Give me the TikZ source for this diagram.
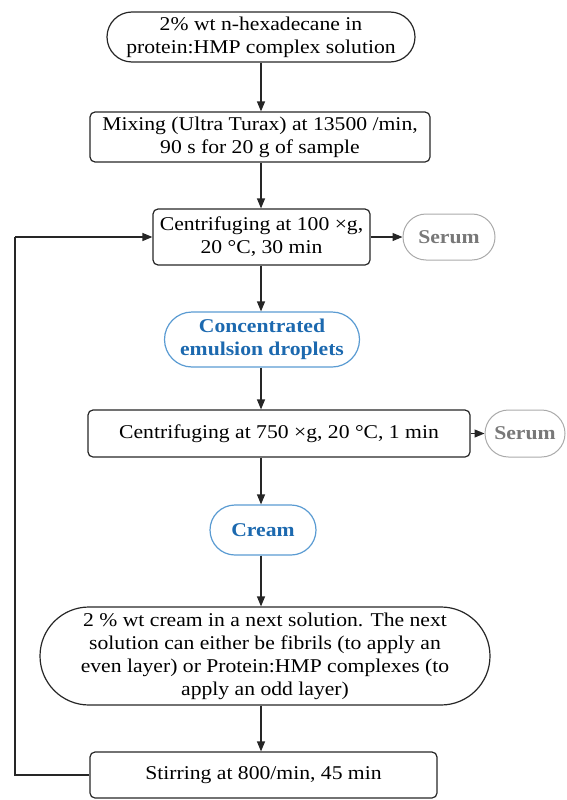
\documentclass[tikz,border=0pt]{standalone}
\usepackage{fontspec}
\setmainfont{Liberation Serif}[FakeStretch=1.11]
\usetikzlibrary{shapes.misc,arrows.meta}
\definecolor{blueT}{RGB}{28,105,175}
\definecolor{blueL}{RGB}{90,155,210}
\definecolor{grayT}{RGB}{120,120,120}
\definecolor{grayL}{RGB}{170,170,170}
\tikzset{
  base/.style={draw=black!85, line width=1.2pt, align=center, inner sep=0pt, font=\fontsize{19.5}{23}\selectfont},
  stad/.style={base, rounded rectangle},
  rbox/.style={base, rectangle, rounded corners=5pt},
  bluestad/.style={stad, draw=blueL, text=blueT, font=\fontsize{19.5}{23}\selectfont\bfseries},
  graystad/.style={stad, draw=grayL, text=grayT, font=\fontsize{19.5}{23}\selectfont\bfseries, line width=1pt},
  arr/.style={line width=1.2pt, draw=black!85, -{Triangle[length=10pt,width=8pt]}},
  ln/.style={line width=1.2pt, draw=black!85}
}
\begin{document}
\begin{tikzpicture}[x=1pt,y=-1pt]
\useasboundingbox (0,0) rectangle (567,800);
\coordinate (axis) at (261,0);
\node[stad, minimum width=308pt, minimum height=50pt] (n1) at (261,37) {2\% wt n-hexadecane in\\protein:HMP complex solution};
\node[rbox, minimum width=340pt, minimum height=50pt] (n2) at (260,137) {Mixing (Ultra Turax) at 13500 /min,\\90 s for 20 g of sample};
\node[rbox, minimum width=217pt, minimum height=56pt] (n3) at (261.5,237) {Centrifuging at 100 ×g,\\20 °C, 30 min};
\node[graystad, minimum width=92pt, minimum height=46pt] (s1) at (449,237) {Serum};
\node[bluestad, minimum width=195pt, minimum height=55pt] (n4) at (262,339.5) {Concentrated\\emulsion droplets};
\node[rbox, minimum width=382pt, minimum height=47pt] (n5) at (279,433.5) {Centrifuging at 750 ×g, 20 °C, 1 min};
\node[graystad, minimum width=80pt, minimum height=47pt] (s2) at (525,433.5) {Serum};
\node[bluestad, minimum width=106pt, minimum height=50pt] (n6) at (263,530) {Cream};
\node[stad, minimum width=450pt, minimum height=98pt] (n7) at (265,656) {2 \% wt cream in a next solution. The next\\solution can either be fibrils (to apply an\\even layer) or Protein:HMP complexes (to\\apply an odd layer)};
\node[rbox, minimum width=347pt, minimum height=46pt] (n8) at (263.5,775) {Stirring at 800/min, 45 min};
\coordinate (c1) at (15,237);
\coordinate (c2) at (15,775);
\draw[arr] (axis |- n1.south) -- (axis |- n2.north);
\draw[arr] (axis |- n2.south) -- (axis |- n3.north);
\draw[arr] (n3.east) -- (s1.west);
\draw[arr] (axis |- n3.south) -- (axis |- n4.north);
\draw[arr] (axis |- n4.south) -- (axis |- n5.north);
\draw[arr] (n5.east) -- (s2.west);
\draw[arr] (axis |- n5.south) -- (axis |- n6.north);
\draw[arr] (axis |- n6.south) -- (axis |- n7.north);
\draw[arr] (axis |- n7.south) -- (axis |- n8.north);
\draw[ln] (n8.west) -- (c2) -- (c1);
\draw[arr] (c1) -- (n3.west);
\end{tikzpicture}
\end{document}
